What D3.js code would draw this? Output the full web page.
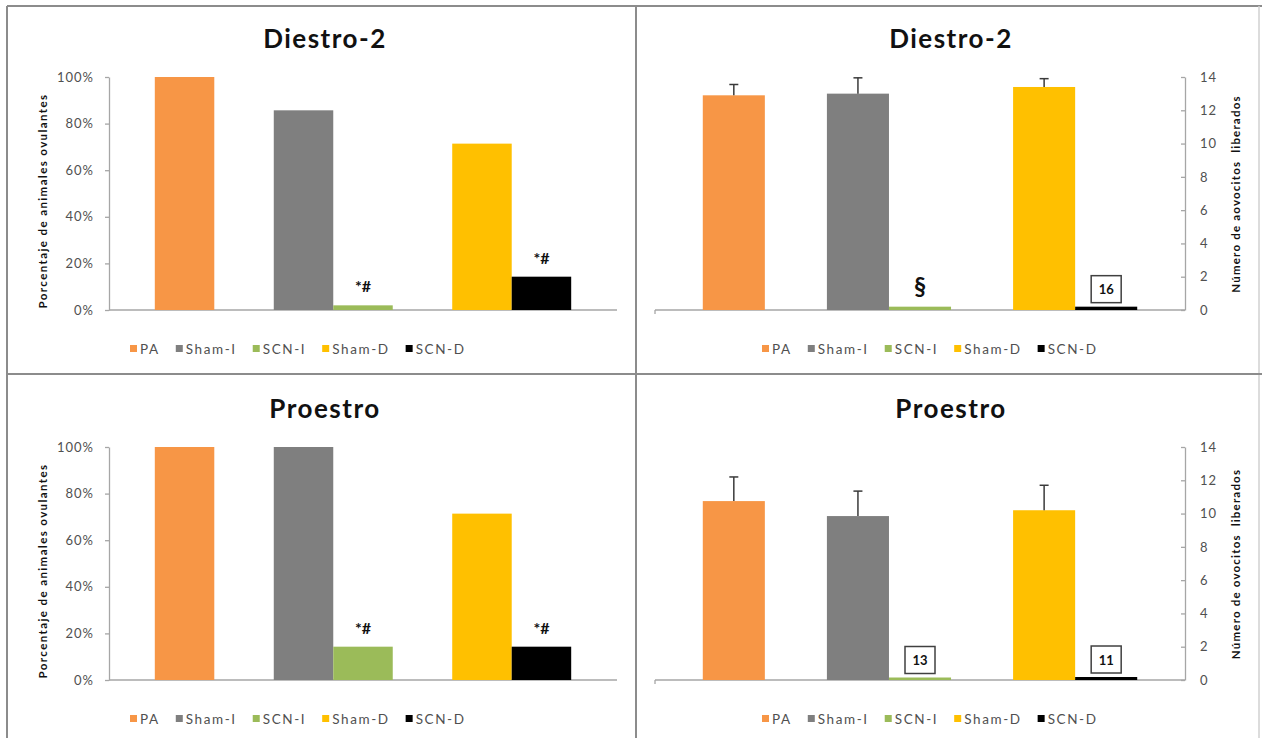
<!DOCTYPE html>
<html>
<head>
<meta charset="utf-8">
<script src="https://cdn.jsdelivr.net/npm/d3@7"></script>
<style>
  body { margin: 0; background: #fff; }
  svg { display: block; }
</style>
</head>
<body>
<svg id="chart" width="1262" height="738"></svg>
<script>
// ---- data ----
const groups = ["PA", "Sham-I", "SCN-I", "Sham-D", "SCN-D"];
const titles = ["Diestro-2", "Proestro"];

// percentage of ovulating animals
const pctDiestro  = [100, 85.7, 2, 71.4, 14.3];
const pctProestro = [100, 100, 14.3, 71.4, 14.3];
const pctDiestroMarks  = ["", "", "*#", "", "*#"];
const pctProestroMarks = ["", "", "*#", "", "*#"];
const pctTicks = [0, 20, 40, 60, 80, 100];
const pctAxisTitle = "Porcentaje de animales ovulantes";

// number of released oocytes (mean + error)
const ovoDiestro     = [12.9, 13.0, 0.2, 13.4, 0.2];
const ovoDiestroErr  = [0.65, 0.95, 0, 0.5, 0];
const ovoProestro    = [10.75, 9.85, 0.15, 10.2, 0.18];
const ovoProestroErr = [1.45, 1.5, 0, 1.5, 0];
const ovoDiestroMarks  = ["", "", "§", "", ""];
const ovoProestroMarks = ["", "", "", "", ""];
const ovoDiestroBoxes  = ["", "", "", "", "16"];
const ovoProestroBoxes = ["", "", "13", "", "11"];
const ovoTicks = [0, 2, 4, 6, 8, 10, 12, 14];
const ovoAxisTitles = ["Número de aovocitos  liberados", "Número de ovocitos  liberados"];

// ---- style ----
const barColors = ["#F79646", "#7F7F7F", "#9BBB59", "#FFC000", "#000000"];
const FONT = "Lato, 'Open Sans', sans-serif";
const GREY_TXT = "#505050";
const AXIS_COL = "#a6a6a6";

const svg = d3.select("#chart");

// panel frame
const frame = svg.append("g").attr("fill", "none");
frame.append("line").attr("x1", 7).attr("y1", 6).attr("x2", 1262).attr("y2", 6).attr("stroke", "#8c8c8c").attr("stroke-width", 2);
frame.append("line").attr("x1", 7).attr("y1", 6).attr("x2", 7).attr("y2", 738).attr("stroke", "#8c8c8c").attr("stroke-width", 2);
frame.append("line").attr("x1", 1259).attr("y1", 6).attr("x2", 1259).attr("y2", 738).attr("stroke", "#d0d0d0").attr("stroke-width", 1.5);
frame.append("line").attr("x1", 636).attr("y1", 6).attr("x2", 636).attr("y2", 738).attr("stroke", "#8c8c8c").attr("stroke-width", 2);
frame.append("line").attr("x1", 7).attr("y1", 374).attr("x2", 1262).attr("y2", 374).attr("stroke", "#8c8c8c").attr("stroke-width", 2);

// clustered slots: PA alone, then the I pair, then the D pair
const slotOrder = ["PA", "gapA", "Sham-I", "SCN-I", "gapB", "Sham-D", "SCN-D"];

const panels = [
  { col: 0, row: 0, kind: "pct", title: titles[0], values: pctDiestro,  marks: pctDiestroMarks },
  { col: 1, row: 0, kind: "ovo", title: titles[0], values: ovoDiestro,  err: ovoDiestroErr,  marks: ovoDiestroMarks,  boxes: ovoDiestroBoxes,  axisTitle: ovoAxisTitles[0] },
  { col: 0, row: 1, kind: "pct", title: titles[1], values: pctProestro, marks: pctProestroMarks },
  { col: 1, row: 1, kind: "ovo", title: titles[1], values: ovoProestro, err: ovoProestroErr, marks: ovoProestroMarks, boxes: ovoProestroBoxes, axisTitle: ovoAxisTitles[1] }
];

panels.forEach(p => {
  const oy = p.row * 370;
  const g = svg.append("g");
  const isPct = p.kind === "pct";
  const xr = isPct ? [109, 617] : [655, 1185];
  const y0 = 310 + oy, yTop = 77 + oy;

  const x = d3.scaleBand().domain(slotOrder).range(xr).paddingInner(0).paddingOuter(0.77);
  const y = d3.scaleLinear().domain(isPct ? [0, 100] : [0, 14]).range([y0, yTop]);

  // title
  g.append("text")
    .attr("x", isPct ? 325 : 951).attr("y", 48 + oy)
    .attr("text-anchor", "middle")
    .attr("font-family", FONT).attr("font-weight", 700).attr("font-size", 26)
    .attr("letter-spacing", 1.5).attr("fill", "#111")
    .text(p.title);

  // value axis
  if (isPct) {
    const ax = g.append("g").attr("transform", `translate(${xr[0]},0)`)
      .call(d3.axisLeft(y).tickValues(pctTicks).tickFormat(d => d + "%").tickSize(4).tickSizeOuter(0).tickPadding(11));
    styleAxis(ax);
    g.append("text")
      .attr("transform", `translate(42,${y0 - 109}) rotate(-90)`)
      .attr("text-anchor", "middle").attr("dominant-baseline", "central")
      .attr("font-family", FONT).attr("font-weight", 700).attr("font-size", 11.5)
      .attr("letter-spacing", 1.4).attr("fill", "#111")
      .text(pctAxisTitle);
  } else {
    const ax = g.append("g").attr("transform", `translate(${xr[1]},0)`)
      .call(d3.axisRight(y).tickValues(ovoTicks).tickSize(-4).tickSizeOuter(0).tickPadding(15));
    styleAxis(ax);
    g.append("text")
      .attr("transform", `translate(1235,${y0 - 116}) rotate(-90)`)
      .attr("text-anchor", "middle").attr("dominant-baseline", "central")
      .attr("font-family", FONT).attr("font-weight", 700).attr("font-size", 11.5)
      .attr("letter-spacing", 1.2).attr("fill", "#111")
      .style("white-space", "pre")
      .text(p.axisTitle);
  }

  // category axis line
  g.append("line").attr("x1", xr[0]).attr("x2", xr[1]).attr("y1", y0).attr("y2", y0)
    .attr("stroke", AXIS_COL).attr("stroke-width", 1.3);
  if (!isPct) {
    g.append("line").attr("x1", xr[0]).attr("x2", xr[0]).attr("y1", y0).attr("y2", y0 + 4)
      .attr("stroke", AXIS_COL).attr("stroke-width", 1.3);
  }

  const rows = groups.map((name, i) => ({
    name, i, v: p.values[i],
    e: p.err ? p.err[i] : 0,
    mark: p.marks ? p.marks[i] : "",
    box: p.boxes ? p.boxes[i] : ""
  }));

  // bars
  g.selectAll("rect.bar").data(rows).join("rect").attr("class", "bar")
    .attr("x", d => x(d.name)).attr("width", x.bandwidth())
    .attr("y", d => y(d.v)).attr("height", d => y0 - y(d.v))
    .attr("fill", d => barColors[d.i]);

  // error bars (upper)
  const eb = rows.filter(d => d.e > 0);
  g.selectAll("line.err").data(eb).join("line").attr("class", "err")
    .attr("x1", d => x(d.name) + x.bandwidth() / 2).attr("x2", d => x(d.name) + x.bandwidth() / 2)
    .attr("y1", d => y(d.v)).attr("y2", d => y(d.v + d.e))
    .attr("stroke", "#3a3a3a").attr("stroke-width", 1.5);
  g.selectAll("line.cap").data(eb).join("line").attr("class", "cap")
    .attr("x1", d => x(d.name) + x.bandwidth() / 2 - 4.5).attr("x2", d => x(d.name) + x.bandwidth() / 2 + 4.5)
    .attr("y1", d => y(d.v + d.e)).attr("y2", d => y(d.v + d.e))
    .attr("stroke", "#3a3a3a").attr("stroke-width", 1.5);

  // significance marks
  rows.filter(d => d.mark).forEach(d => {
    const cx = x(d.name) + x.bandwidth() / 2;
    const big = d.mark === "§";
    g.append("text")
      .attr("x", cx).attr("y", y(d.v) - (big ? 12 : 13))
      .attr("text-anchor", "middle")
      .attr("font-family", FONT).attr("font-weight", 700)
      .attr("font-size", big ? 24 : 16).attr("fill", "#111")
      .text(d.mark);
  });

  // boxed group sizes
  rows.filter(d => d.box).forEach(d => {
    const cx = x(d.name) + x.bandwidth() / 2;
    const bb = y(d.v) - 4;
    g.append("rect").attr("x", cx - 15).attr("y", bb - 27).attr("width", 30).attr("height", 27)
      .attr("fill", "#fff").attr("stroke", "#404040").attr("stroke-width", 1.5);
    g.append("text").attr("x", cx).attr("y", bb - 8.5).attr("text-anchor", "middle")
      .attr("font-family", FONT).attr("font-weight", 700).attr("font-size", 13).attr("fill", "#111")
      .text(d.box);
  });

  // legend
  const leg = g.append("g");
  let lx = isPct ? 130 : 762;
  const ly = 354 + oy;
  groups.forEach((name, i) => {
    leg.append("rect").attr("x", lx).attr("y", ly - 9).attr("width", 7).attr("height", 7).attr("fill", barColors[i]);
    const t = leg.append("text").attr("x", lx + 10).attr("y", ly)
      .attr("font-family", FONT).attr("font-size", 13.5).attr("letter-spacing", 1.6)
      .attr("fill", GREY_TXT).text(name);
    lx += 10 + t.node().getBBox().width + 16;
  });
});

function styleAxis(ax) {
  ax.select(".domain").attr("stroke", AXIS_COL).attr("stroke-width", 1.3);
  ax.selectAll(".tick line").attr("stroke", AXIS_COL).attr("stroke-width", 1.3);
  ax.selectAll(".tick text")
    .attr("font-family", FONT).attr("font-size", 13).attr("letter-spacing", 1)
    .attr("fill", GREY_TXT);
}
</script>
</body>
</html>
